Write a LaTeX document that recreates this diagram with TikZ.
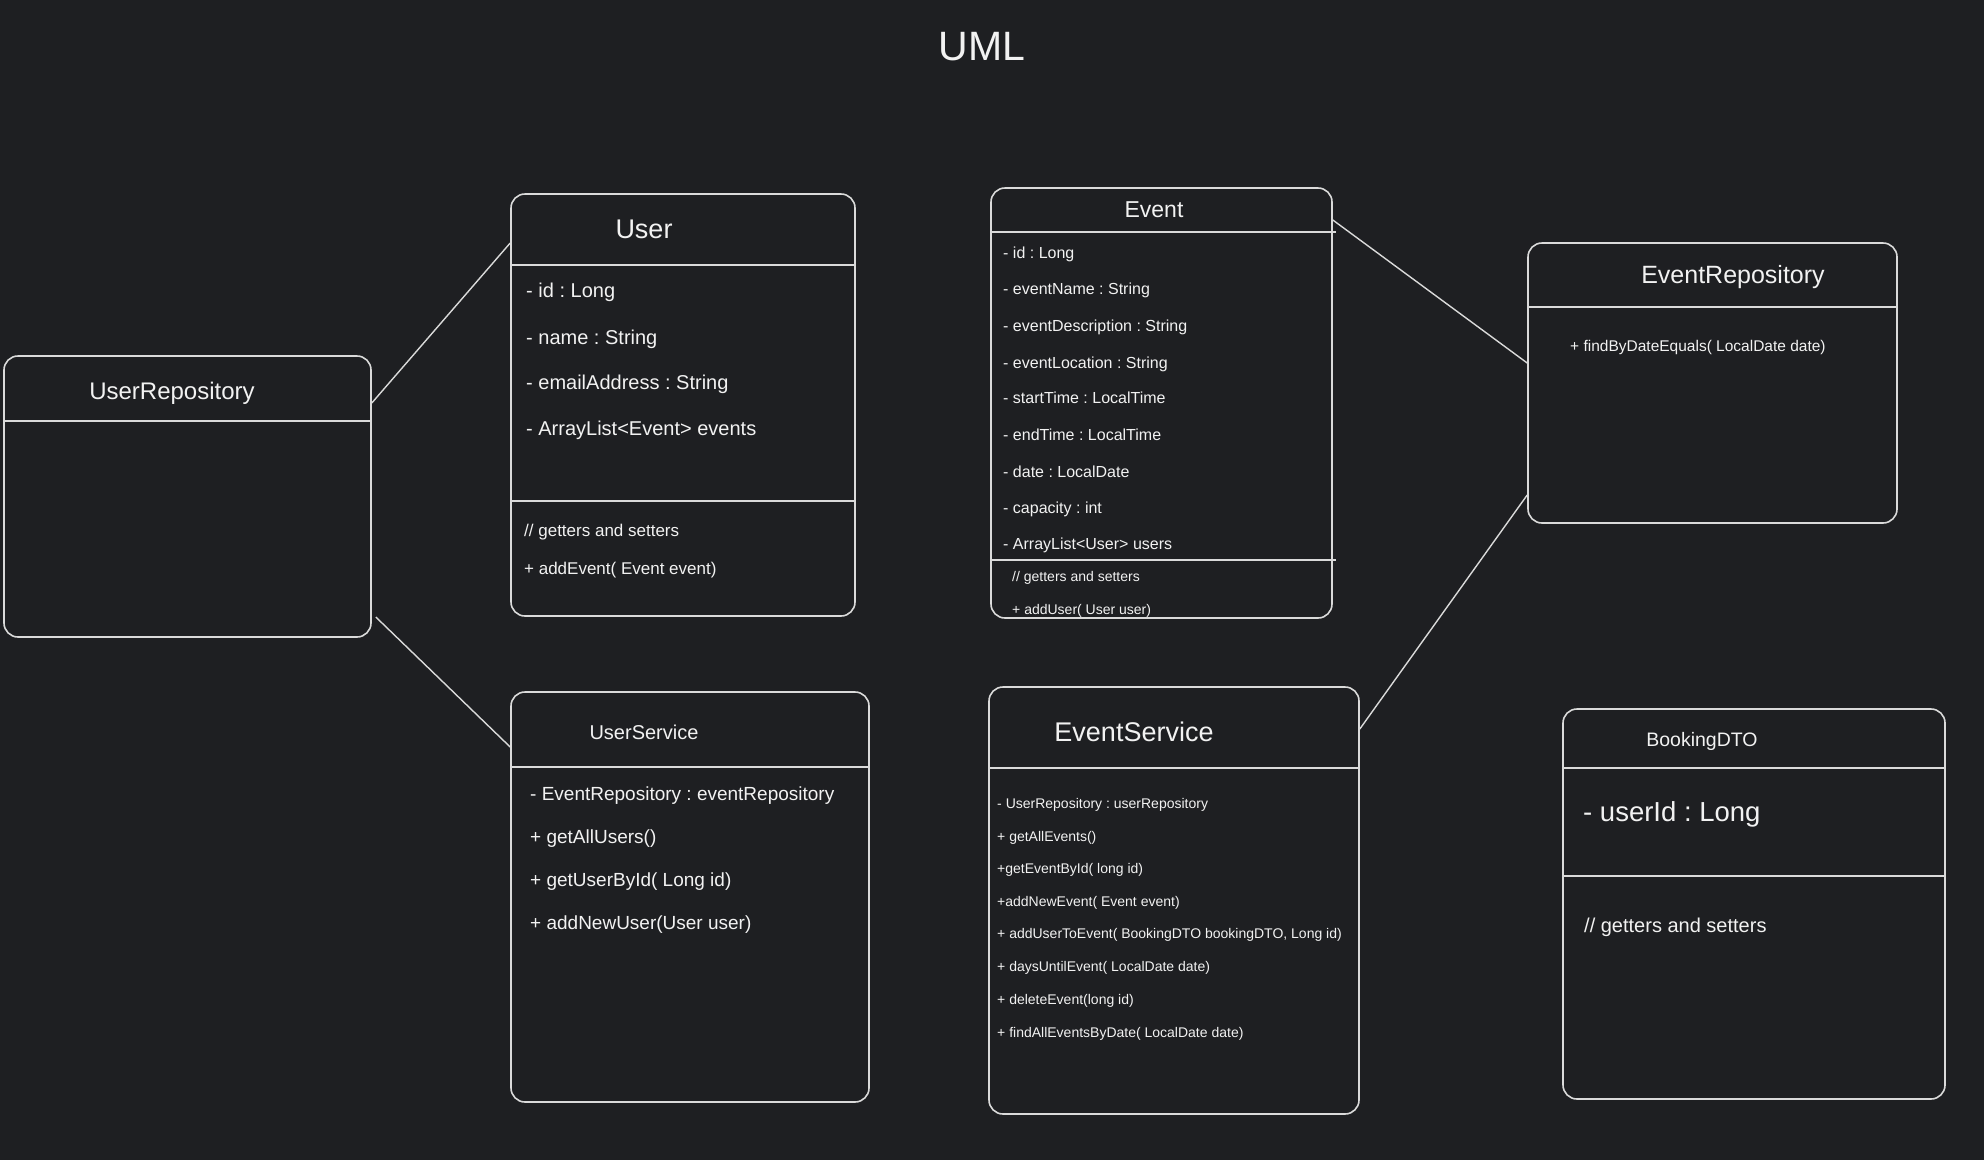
\documentclass[tikz,border=0pt]{standalone}
\usepackage{fontspec}
\setmainfont{Liberation Sans}
\frenchspacing
\definecolor{bg}{HTML}{1E1F22}
\definecolor{ln}{HTML}{DADADA}
\definecolor{fg}{HTML}{F2F2F2}
\tikzset{
  umlbox/.style={draw=ln, line width=1.6pt, rounded corners=14pt, inner sep=0pt},
  sepline/.style={draw=ln, line width=1.8pt},
  conn/.style={draw=ln, line width=1.4pt},
  itm/.style={text=fg, inner sep=0pt, anchor=base west},
  ttl/.style={text=fg, inner sep=0pt, anchor=base},
}
\newcommand\umlItem[5]{\node[itm, font=\fontsize{#4}{#4}\selectfont] (#1) at (#2,{#3+0.358*#4}) {#5};}
\newcommand\umlTitle[5]{\node[ttl, font=\fontsize{#4}{#4}\selectfont] (#1) at (#2,{#3+0.358*#4}) {#5};}
\begin{document}
\begin{tikzpicture}[x=1pt,y=-1pt]
\fill[bg] (0,0) rectangle (1984,1160);
\useasboundingbox (0,0) rectangle (1984,1160);

\umlTitle{uml}{982}{46}{41}{UML}

% boxes
\node[umlbox, minimum width=367pt, minimum height=281pt] (ur) at (187.5,496.5) {};
\node[umlbox, minimum width=344pt, minimum height=422pt] (user) at (683,405) {};
\node[umlbox, minimum width=341pt, minimum height=430pt] (event) at (1161.5,403) {};
\node[umlbox, minimum width=369pt, minimum height=280pt] (erepo) at (1712.5,383) {};
\node[umlbox, minimum width=358pt, minimum height=410pt] (usvc) at (690,897) {};
\node[umlbox, minimum width=370pt, minimum height=427pt] (esvc) at (1174,900.5) {};
\node[umlbox, minimum width=382pt, minimum height=390pt] (bdto) at (1754,904) {};

% dividers
\draw[sepline] (ur.west |- 0,421) -- (ur.east |- 0,421);
\draw[sepline] (user.west |- 0,265) -- (user.east |- 0,265);
\draw[sepline] (user.west |- 0,501) -- (user.east |- 0,501);
\draw[sepline] (event.west |- 0,232) -- ([xshift=3pt]event.east |- 0,232);
\draw[sepline] (event.west |- 0,560) -- ([xshift=3pt]event.east |- 0,560);
\draw[sepline] (erepo.west |- 0,307) -- (erepo.east |- 0,307);
\draw[sepline] (usvc.west |- 0,767) -- (usvc.east |- 0,767);
\draw[sepline] (esvc.west |- 0,768) -- (esvc.east |- 0,768);
\draw[sepline] (bdto.west |- 0,768) -- (bdto.east |- 0,768);
\draw[sepline] (bdto.west |- 0,876) -- (bdto.east |- 0,876);

% connectors
\draw[conn] (ur.east |- 0,403) -- (user.west |- 0,243);
\draw[conn] ([xshift=4pt]ur.east |- 0,617) -- (usvc.west |- 0,747);
\draw[conn] (event.east |- 0,220) -- (erepo.west |- 0,363);
\draw[conn] (esvc.east |- 0,729) -- (erepo.west |- 0,495);

% UserRepository
\umlTitle{urT}{172}{391}{24}{UserRepository}

% User
\umlTitle{userT}{644}{229}{27}{User}
\umlItem{userA1}{526}{290}{20}{- id : Long}
\umlItem{userA2}{526}{337}{20}{- name : String}
\umlItem{userA3}{526}{382}{20}{- emailAddress : String}
\umlItem{userA4}{526}{428}{20}{- ArrayList<Event> events}
\umlItem{userM1}{524}{530}{17}{// getters and setters}
\umlItem{userM2}{524}{568}{17}{+ addEvent( Event event)}

% Event
\umlTitle{eventT}{1154}{209}{23}{Event}
\umlItem{evA1}{1003}{253}{16}{- id : Long}
\umlItem{evA2}{1003}{289}{16}{- eventName : String}
\umlItem{evA3}{1003}{326}{16}{- eventDescription : String}
\umlItem{evA4}{1003}{363}{16}{- eventLocation : String}
\umlItem{evA5}{1003}{398}{16}{- startTime : LocalTime}
\umlItem{evA6}{1003}{435}{16}{- endTime : LocalTime}
\umlItem{evA7}{1003}{472}{16}{- date : LocalDate}
\umlItem{evA8}{1003}{508}{16}{- capacity : int}
\umlItem{evA9}{1003}{544}{16}{- ArrayList<User> users}
\umlItem{evM1}{1012}{576}{14}{// getters and setters}
\umlItem{evM2}{1012}{609}{14}{+ addUser( User user)}

% EventRepository
\umlTitle{erepoT}{1733}{275}{25}{EventRepository}
\umlItem{erepoM1}{1570}{346}{15.5}{+ findByDateEquals( LocalDate date)}

% UserService
\umlTitle{usvcT}{644}{732}{20}{UserService}
\umlItem{usvcI1}{530}{794}{19}{- EventRepository : eventRepository}
\umlItem{usvcI2}{530}{837}{19}{+ getAllUsers()}
\umlItem{usvcI3}{530}{880}{19}{+ getUserById( Long id)}
\umlItem{usvcI4}{530}{923}{19}{+ addNewUser(User user)}

% EventService
\umlTitle{esvcT}{1134}{732}{27}{EventService}
\umlItem{esvcI1}{997}{803}{14}{- UserRepository : userRepository}
\umlItem{esvcI2}{997}{836}{14}{+ getAllEvents()}
\umlItem{esvcI3}{997}{868}{14}{+getEventById( long id)}
\umlItem{esvcI4}{997}{901}{14}{+addNewEvent( Event event)}
\umlItem{esvcI5}{997}{933}{14}{+ addUserToEvent( BookingDTO bookingDTO, Long id)}
\umlItem{esvcI6}{997}{966}{14}{+ daysUntilEvent( LocalDate date)}
\umlItem{esvcI7}{997}{999}{14}{+ deleteEvent(long id)}
\umlItem{esvcI8}{997}{1032}{14}{+ findAllEventsByDate( LocalDate date)}

% BookingDTO
\umlTitle{bdtoT}{1702}{740}{19.5}{BookingDTO}
\umlItem{bdtoA1}{1583}{812}{27.5}{- userId : Long}
\umlItem{bdtoM1}{1584}{925}{20}{// getters and setters}
\end{tikzpicture}
\end{document}
